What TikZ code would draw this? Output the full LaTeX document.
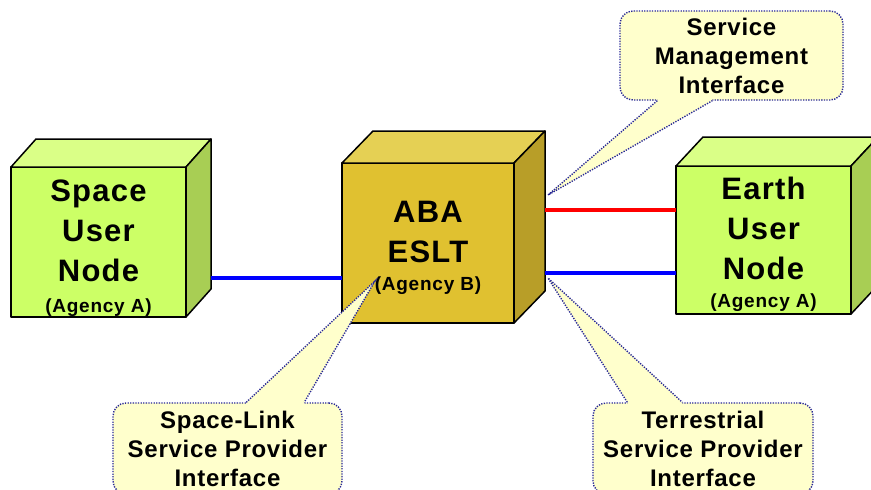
\documentclass[tikz,border=0pt]{standalone}
\usepackage{fontspec}
\setmainfont{Liberation Sans}

\definecolor{limefront}{RGB}{204,255,102}
\definecolor{limetop}{RGB}{218,255,135}
\definecolor{limeside}{RGB}{168,206,84}
\definecolor{goldfront}{RGB}{224,193,48}
\definecolor{goldtop}{RGB}{229,208,84}
\definecolor{goldside}{RGB}{184,158,40}
\definecolor{callfill}{RGB}{255,255,204}
\definecolor{callline}{RGB}{40,40,150}

\tikzset{
  cubeface/.style={draw=black, line width=1.5pt, line join=round},
  frontface/.style={cubeface, rectangle, outer sep=0pt, inner sep=0pt},
  bigtxt/.style={align=center, inner sep=0pt,
    font=\bfseries\fontsize{31}{40}\selectfont\addfontfeature{LetterSpace=4}},
  agtxt/.style={inner sep=0pt,
    font=\bfseries\fontsize{19}{22}\selectfont\addfontfeature{LetterSpace=4}},
  link/.style={line width=4pt},
  callbox/.style={rectangle, rounded corners=13pt, fill=callfill, draw=callline,
    line width=1.4pt, dash pattern=on 1.3pt off 1.3pt, align=center, inner sep=0pt,
    font=\bfseries\fontsize{24}{29}\selectfont\addfontfeature{LetterSpace=3}},
  pointerline/.style={draw=callline, line width=1.4pt, dash pattern=on 1.3pt off 1.3pt}
}

% top and side of a box, drawn on its front face node
\newcommand{\cubefaces}[5]{%
  \filldraw[cubeface, fill=#4] (#1.north west) -- ([shift={(#2,#3)}]#1.north west)
    -- ([shift={(#2,#3)}]#1.north east) -- (#1.north east) -- cycle;
  \filldraw[cubeface, fill=#5] (#1.north east) -- ([shift={(#2,#3)}]#1.north east)
    -- ([shift={(#2,#3)}]#1.south east) -- (#1.south east) -- cycle;
}

% pointer of a callout: anchor, base from, base to, tip, inward shift
\newcommand{\pointer}[5]{%
  \fill[callfill] ([xshift=#2pt]#1) -- (#4) -- ([xshift=#3pt]#1)
    -- ([xshift=#3pt,yshift=#5pt]#1) -- ([xshift=#2pt,yshift=#5pt]#1) -- cycle;
  \draw[pointerline] ([xshift=#2pt]#1) -- (#4) -- ([xshift=#3pt]#1);
}

\begin{document}
\begin{tikzpicture}[x=1pt, y=-1pt]
\useasboundingbox (0,0) rectangle (871,490);

% the three boxes
\node[frontface, fill=limefront, minimum width=175pt, minimum height=150pt] (space) at (98.5,242) {};
\cubefaces{space}{25}{-28}{limetop}{limeside}
\node[frontface, fill=goldfront, minimum width=172pt, minimum height=160pt] (eslt) at (428,243) {};
\cubefaces{eslt}{31}{-32}{goldtop}{goldside}
\node[frontface, fill=limefront, minimum width=175pt, minimum height=148pt] (earth) at (763.5,240) {};
\cubefaces{earth}{27}{-29}{limetop}{limeside}

\node[bigtxt] (spacetxt) at ([yshift=11pt]space.center) {Space\\User\\Node};
\node[agtxt, anchor=base] (spaceag) at ([yshift=-70pt]space.center) {(Agency A)};
\node[bigtxt] (eslttxt) at ([yshift=11pt]eslt.center) {ABA\\ESLT};
\node[agtxt, anchor=base] (esltag) at ([yshift=-47pt]eslt.center) {(Agency B)};
\node[bigtxt] (earthtxt) at ([yshift=12pt]earth.center) {Earth\\User\\Node};
\node[agtxt, anchor=base] (earthag) at ([yshift=-67pt]earth.center) {(Agency A)};

% links
\draw[link, blue] ([xshift=25pt,yshift=-36pt]space.east) -- ([yshift=-35pt]eslt.west);
\draw[link, red] ([xshift=31pt,yshift=33pt]eslt.east) -- ([yshift=30pt]earth.west);
\draw[link, blue] ([xshift=31pt,yshift=-30pt]eslt.east) -- ([yshift=-33pt]earth.west);

% interfaces
\node[callbox, minimum width=223pt, minimum height=89pt] (smgmt) at (731.5,55.5) {Service\\Management\\Interface};
\coordinate (smtip) at (548,195);
\pointer{smgmt.south west}{38}{93}{smtip}{2}

\node[callbox, minimum width=229pt, minimum height=91pt] (sllink) at (227.5,448.5) {Space-Link\\Service Provider\\Interface};
\coordinate (sltip) at (375,281);
\pointer{sllink.north west}{134}{192}{sltip}{-2}

\node[callbox, minimum width=220pt, minimum height=91pt] (tsp) at (703,448.5) {Terrestrial\\Service Provider\\Interface};
\coordinate (tsptip) at (548,278);
\pointer{tsp.north west}{35}{90}{tsptip}{-2}
\end{tikzpicture}
\end{document}
